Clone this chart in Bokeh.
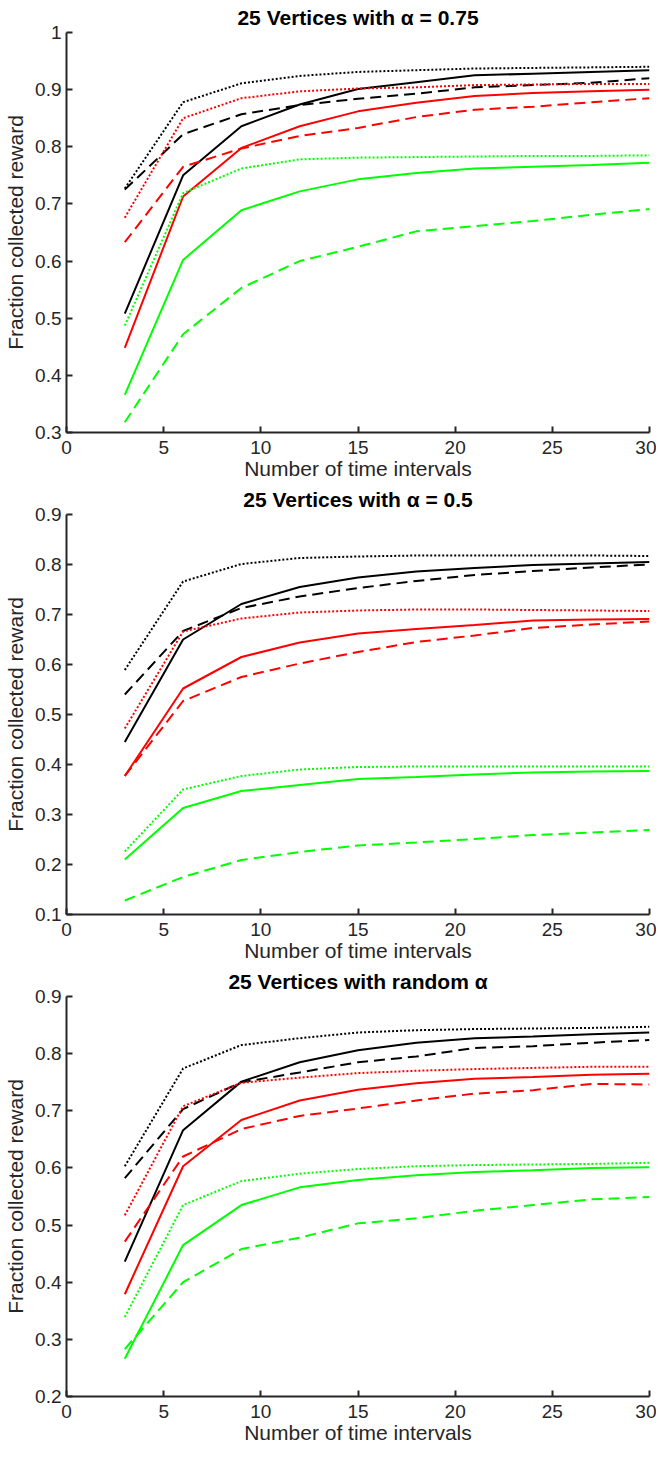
from bokeh.plotting import figure
from bokeh.layouts import column
from bokeh.models import Range1d, FixedTicker, CustomJSTickFormatter
from bokeh.embed import file_html
from bokeh.resources import INLINE

# ---------------- data ----------------
x_intervals = [3, 6, 9, 12, 15, 18, 21, 24, 27, 30]

titles = ["25 Vertices with \u03b1 = 0.75",
          "25 Vertices with \u03b1 = 0.5",
          "25 Vertices with random \u03b1"]
x_label = "Number of time intervals"
y_label = "Fraction collected reward"
x_ticks = [0, 5, 10, 15, 20, 25, 30]

# plot 1: alpha = 0.75
a75_black_solid = [0.508, 0.750, 0.836, 0.874, 0.901, 0.913, 0.925, 0.928, 0.931, 0.934]
a75_black_dash  = [0.725, 0.822, 0.857, 0.873, 0.884, 0.893, 0.904, 0.908, 0.912, 0.920]
a75_black_dot   = [0.727, 0.878, 0.911, 0.924, 0.931, 0.934, 0.937, 0.938, 0.939, 0.940]
a75_red_solid   = [0.448, 0.713, 0.798, 0.836, 0.862, 0.877, 0.889, 0.894, 0.897, 0.900]
a75_red_dash    = [0.633, 0.765, 0.797, 0.819, 0.833, 0.852, 0.865, 0.870, 0.878, 0.885]
a75_red_dot     = [0.676, 0.850, 0.885, 0.897, 0.902, 0.904, 0.908, 0.909, 0.910, 0.910]
a75_green_solid = [0.366, 0.602, 0.689, 0.722, 0.743, 0.754, 0.762, 0.765, 0.768, 0.772]
a75_green_dash  = [0.318, 0.472, 0.553, 0.600, 0.625, 0.652, 0.661, 0.670, 0.681, 0.691]
a75_green_dot   = [0.487, 0.719, 0.762, 0.778, 0.781, 0.782, 0.783, 0.784, 0.784, 0.785]
a75_yticks = [0.3, 0.4, 0.5, 0.6, 0.7, 0.8, 0.9, 1.0]

# plot 2: alpha = 0.5
a50_black_solid = [0.445, 0.650, 0.721, 0.755, 0.774, 0.786, 0.793, 0.799, 0.802, 0.805]
a50_black_dash  = [0.540, 0.667, 0.713, 0.736, 0.753, 0.767, 0.779, 0.787, 0.794, 0.800]
a50_black_dot   = [0.589, 0.766, 0.801, 0.813, 0.816, 0.818, 0.818, 0.818, 0.818, 0.817]
a50_red_solid   = [0.377, 0.552, 0.615, 0.644, 0.662, 0.671, 0.679, 0.688, 0.690, 0.691]
a50_red_dash    = [0.377, 0.527, 0.575, 0.602, 0.625, 0.645, 0.658, 0.673, 0.680, 0.686]
a50_red_dot     = [0.472, 0.666, 0.692, 0.704, 0.708, 0.710, 0.710, 0.709, 0.708, 0.707]
a50_green_solid = [0.210, 0.313, 0.347, 0.359, 0.371, 0.375, 0.380, 0.384, 0.386, 0.387]
a50_green_dash  = [0.128, 0.175, 0.209, 0.225, 0.238, 0.244, 0.251, 0.259, 0.264, 0.269]
a50_green_dot   = [0.226, 0.350, 0.377, 0.390, 0.395, 0.396, 0.396, 0.396, 0.396, 0.396]
a50_yticks = [0.1, 0.2, 0.3, 0.4, 0.5, 0.6, 0.7, 0.8, 0.9]

# plot 3: random alpha
rnd_black_solid = [0.436, 0.666, 0.751, 0.785, 0.806, 0.819, 0.827, 0.830, 0.834, 0.837]
rnd_black_dash  = [0.582, 0.703, 0.750, 0.767, 0.785, 0.795, 0.810, 0.813, 0.819, 0.824]
rnd_black_dot   = [0.603, 0.774, 0.815, 0.827, 0.837, 0.841, 0.843, 0.844, 0.845, 0.847]
rnd_red_solid   = [0.379, 0.603, 0.684, 0.718, 0.737, 0.748, 0.756, 0.759, 0.763, 0.765]
rnd_red_dash    = [0.471, 0.620, 0.668, 0.691, 0.704, 0.718, 0.730, 0.736, 0.747, 0.746]
rnd_red_dot     = [0.517, 0.708, 0.749, 0.758, 0.766, 0.770, 0.773, 0.775, 0.777, 0.777]
rnd_green_solid = [0.266, 0.465, 0.535, 0.566, 0.579, 0.587, 0.593, 0.596, 0.600, 0.601]
rnd_green_dash  = [0.283, 0.400, 0.458, 0.478, 0.503, 0.512, 0.525, 0.535, 0.545, 0.549]
rnd_green_dot   = [0.339, 0.535, 0.577, 0.590, 0.598, 0.603, 0.605, 0.606, 0.607, 0.609]
rnd_yticks = [0.2, 0.3, 0.4, 0.5, 0.6, 0.7, 0.8, 0.9]

panels = [
    (titles[0], a75_yticks, [
        ("black", "solid", a75_black_solid), ("black", "dash", a75_black_dash), ("black", "dot", a75_black_dot),
        ("red", "solid", a75_red_solid), ("red", "dash", a75_red_dash), ("red", "dot", a75_red_dot),
        ("green", "solid", a75_green_solid), ("green", "dash", a75_green_dash), ("green", "dot", a75_green_dot)]),
    (titles[1], a50_yticks, [
        ("black", "solid", a50_black_solid), ("black", "dash", a50_black_dash), ("black", "dot", a50_black_dot),
        ("red", "solid", a50_red_solid), ("red", "dash", a50_red_dash), ("red", "dot", a50_red_dot),
        ("green", "solid", a50_green_solid), ("green", "dash", a50_green_dash), ("green", "dot", a50_green_dot)]),
    (titles[2], rnd_yticks, [
        ("black", "solid", rnd_black_solid), ("black", "dash", rnd_black_dash), ("black", "dot", rnd_black_dot),
        ("red", "solid", rnd_red_solid), ("red", "dash", rnd_red_dash), ("red", "dot", rnd_red_dot),
        ("green", "solid", rnd_green_solid), ("green", "dash", rnd_green_dash), ("green", "dot", rnd_green_dot)]),
]

# ---------------- styles ----------------
COLORS = {"black": "#000000", "red": "#ff0000", "green": "#00ff00"}
DASHES = {"solid": "solid", "dash": "11 6", "dot": "2 2"}
FONT = "Liberation Sans"
AXIS_COLOR = "#262626"

figs = []
for title, yticks, series in panels:
    p = figure(frame_width=583, frame_height=400,
               x_range=Range1d(0, 30), y_range=Range1d(yticks[0], yticks[-1]),
               output_backend="svg", toolbar_location=None,
               min_border_left=66, min_border_right=7,
               min_border_top=0, min_border_bottom=0,
               background_fill_color="white", border_fill_color="white")
    p.outline_line_color = None
    p.grid.visible = False

    p.title.text = title
    p.title.align = "center"
    p.title.text_font = FONT
    p.title.text_font_size = "21px"
    p.title.text_font_style = "bold"
    p.title.text_color = "#000000"
    p.title.standoff = 7

    for ax in (p.xaxis[0], p.yaxis[0]):
        ax.axis_line_color = AXIS_COLOR
        ax.axis_line_width = 2
        ax.major_tick_line_color = AXIS_COLOR
        ax.major_tick_line_width = 2
        ax.major_tick_in = 6
        ax.major_tick_out = 0
        ax.minor_tick_line_color = None
        ax.major_label_text_font = FONT
        ax.major_label_text_font_size = "19px"
        ax.major_label_text_color = AXIS_COLOR
        ax.axis_label_text_font = FONT
        ax.axis_label_text_font_size = "21px"
        ax.axis_label_text_font_style = "normal"
        ax.axis_label_text_color = AXIS_COLOR

    p.xaxis[0].ticker = FixedTicker(ticks=x_ticks)
    p.xaxis[0].axis_label = x_label
    p.xaxis[0].major_label_standoff = 8
    p.xaxis[0].axis_label_standoff = 0

    p.yaxis[0].ticker = FixedTicker(ticks=yticks)
    p.yaxis[0].formatter = CustomJSTickFormatter(code="return (Math.round(tick*10)/10).toString();")
    p.yaxis[0].axis_label = y_label
    p.yaxis[0].major_label_standoff = 5
    p.yaxis[0].axis_label_standoff = 5

    for color, style, ys in series:
        p.line(x_intervals, ys, line_color=COLORS[color], line_width=2,
               line_dash=DASHES[style])
    figs.append(p)

layout = column(*figs, spacing=0)
open("out.html", "w").write(file_html(layout, INLINE))
